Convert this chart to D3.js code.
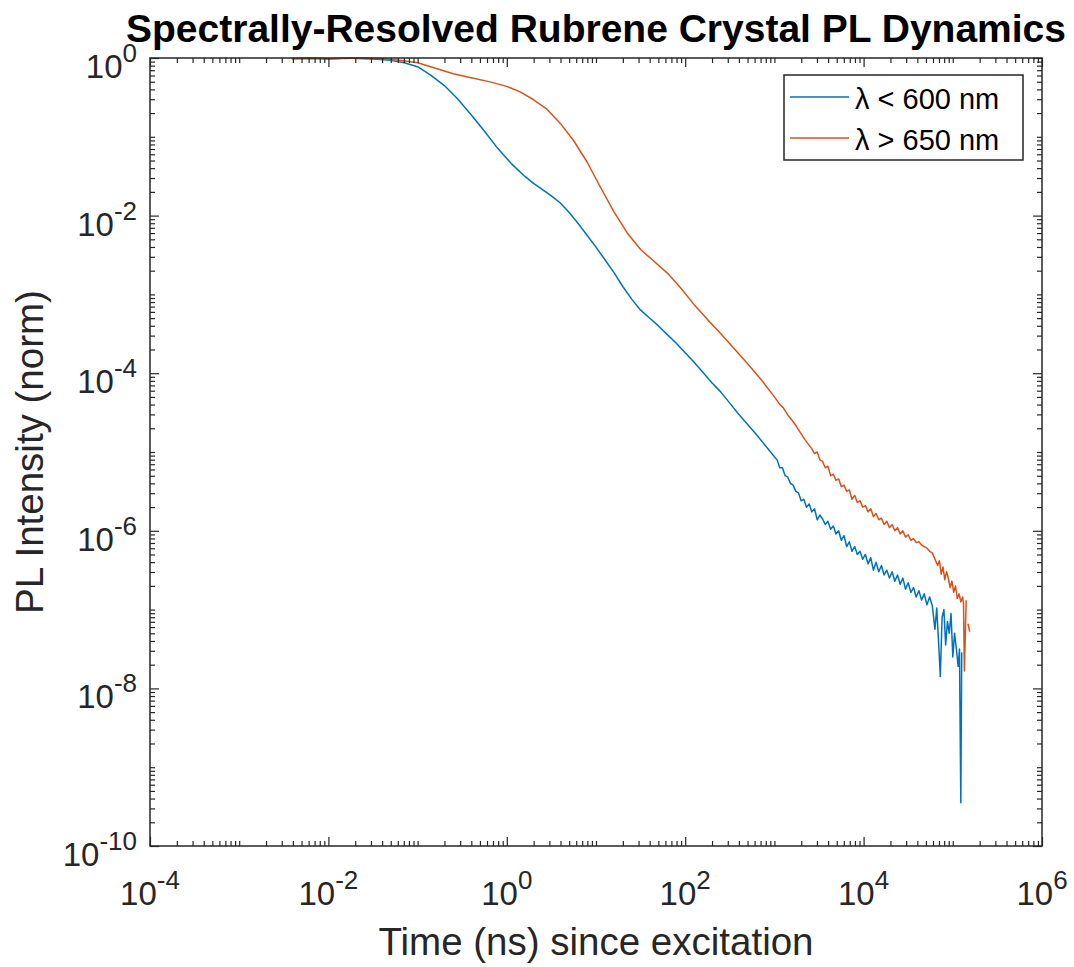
<!DOCTYPE html>
<html>
<head>
<meta charset="utf-8">
<script src="https://cdn.jsdelivr.net/npm/d3@7"></script>
<style>
  body { margin: 0; background: #fff; }
  svg text { font-family: "Liberation Sans", Arial, Helvetica, sans-serif; fill: #262626; }
</style>
</head>
<body>
<svg id="chart" width="1074" height="967"></svg>
<script>
// Series, as [log10(time ns), log10(intensity)]
const blueExp = [
  [-2.41,-0.01],[-2.2,-0.005],[-2.0,-0.012],[-1.8,0],[-1.6,-0.01],[-1.45,-0.015],[-1.3,-0.03],
  [-1.15,-0.06],[-1.0,-0.11],[-0.85,-0.22],[-0.7,-0.35],[-0.55,-0.52],[-0.4,-0.72],[-0.25,-0.93],
  [-0.1,-1.15],[0.05,-1.34],[0.2,-1.5],[0.3,-1.59],[0.4,-1.67],[0.5,-1.75],[0.6,-1.84],[0.7,-1.96],
  [0.8,-2.1],[0.9,-2.25],[1.0,-2.4],[1.1,-2.56],[1.2,-2.72],[1.3,-2.9],[1.4,-3.06],[1.5,-3.2],
  [1.6,-3.3],[1.7,-3.4],[1.8,-3.51],[1.9,-3.62],[2.0,-3.74],[2.1,-3.86],[2.2,-3.99],[2.3,-4.12],
  [2.4,-4.24],[2.5,-4.38],[2.6,-4.52],[2.7,-4.65],[2.8,-4.78],[2.9,-4.92],
  [3.0,-5.06],[3.03,-5.1],[3.06,-5.2],[3.09,-5.2],[3.12,-5.3],[3.15,-5.32],[3.18,-5.4],[3.21,-5.42],
  [3.24,-5.5],[3.27,-5.52],[3.3,-5.62],[3.33,-5.6],[3.36,-5.7],[3.39,-5.66],[3.42,-5.76],[3.45,-5.72],
  [3.48,-5.86],[3.51,-5.8],[3.54,-5.85],[3.57,-5.92],[3.6,-5.88],[3.63,-5.98],[3.66,-5.94],[3.69,-6.04],
  [3.72,-6.0],[3.75,-6.12],[3.78,-6.06],[3.81,-6.2],[3.84,-6.14],[3.87,-6.26],[3.9,-6.2],[3.93,-6.3],
  [3.96,-6.26],[3.99,-6.36],[4.02,-6.3],[4.05,-6.42],[4.08,-6.34],[4.11,-6.5],[4.14,-6.4],[4.17,-6.52],
  [4.2,-6.44],[4.23,-6.56],[4.26,-6.5],[4.29,-6.6],[4.32,-6.52],[4.35,-6.64],[4.38,-6.56],[4.41,-6.68],
  [4.44,-6.6],[4.47,-6.74],[4.5,-6.66],[4.53,-6.78],[4.56,-6.72],[4.59,-6.84],[4.62,-6.76],[4.65,-6.88],
  [4.68,-6.8],[4.71,-6.94],[4.74,-6.84],[4.77,-6.95],[4.8,-7.25],[4.82,-6.98],[4.84,-7.4],[4.86,-7.85],
  [4.88,-7.1],[4.9,-7.0],[4.92,-7.45],[4.94,-7.15],[4.96,-7.3],[4.98,-7.05],[5.0,-7.6],[5.02,-7.3],
  [5.04,-7.5],[5.06,-7.72],[5.075,-7.5],[5.08,-8.2],[5.09,-9.45],[5.1,-7.54]
];
const orangeExp = [
  [-2.41,-0.005],[-2.2,0],[-2.0,-0.01],[-1.8,-0.005],[-1.6,0],[-1.4,-0.01],[-1.2,-0.03],[-1.0,-0.06],
  [-0.8,-0.13],[-0.6,-0.2],[-0.4,-0.25],[-0.2,-0.3],[0.0,-0.36],[0.15,-0.43],[0.3,-0.53],[0.45,-0.65],
  [0.6,-0.83],[0.75,-1.05],[0.9,-1.32],[1.05,-1.64],[1.2,-1.95],[1.35,-2.22],[1.5,-2.43],[1.65,-2.58],
  [1.8,-2.73],[1.95,-2.92],[2.1,-3.13],[2.25,-3.32],[2.4,-3.5],[2.55,-3.69],[2.7,-3.88],[2.85,-4.08],
  [3.0,-4.3],[3.05,-4.38],[3.1,-4.44],[3.15,-4.53],[3.2,-4.6],[3.25,-4.68],[3.3,-4.77],[3.34,-4.84],
  [3.38,-4.9],[3.42,-4.96],[3.45,-5.02],[3.48,-5.0],[3.51,-5.1],[3.54,-5.12],[3.57,-5.2],[3.6,-5.18],
  [3.63,-5.3],[3.66,-5.28],[3.69,-5.36],[3.72,-5.34],[3.75,-5.44],[3.78,-5.42],[3.81,-5.5],[3.84,-5.48],
  [3.87,-5.6],[3.9,-5.55],[3.93,-5.64],[3.96,-5.62],[3.99,-5.7],[4.02,-5.68],[4.05,-5.76],[4.08,-5.72],
  [4.11,-5.82],[4.14,-5.78],[4.17,-5.86],[4.2,-5.84],[4.23,-5.92],[4.26,-5.88],[4.29,-5.96],[4.32,-5.92],
  [4.35,-6.0],[4.38,-5.96],[4.41,-6.04],[4.44,-6.0],[4.47,-6.08],[4.5,-6.05],[4.53,-6.12],[4.56,-6.1],
  [4.59,-6.15],[4.62,-6.14],[4.65,-6.18],[4.68,-6.2],[4.71,-6.22],[4.74,-6.26],[4.77,-6.28],[4.8,-6.36],
  [4.83,-6.44],[4.85,-6.38],[4.87,-6.55],[4.89,-6.46],[4.91,-6.62],[4.93,-6.52],[4.95,-6.6],[4.97,-6.72],
  [4.99,-6.64],[5.01,-6.78],[5.03,-6.7],[5.05,-6.86],[5.07,-6.8],[5.09,-6.9],[5.11,-6.84],[5.12,-6.92],
  [5.13,-7.78],[5.15,-6.88],
  null,
  [5.17,-7.18],[5.19,-7.28]
];

const seriesNames = ['\u03bb < 600 nm', '\u03bb > 650 nm'];
const seriesColors = ['#0072BD', '#D95319'];
const xMajorExp = [-4, -2, 0, 2, 4, 6];
const yMajorExp = [-10, -8, -6, -4, -2, 0];

const titleText = 'Spectrally-Resolved Rubrene Crystal PL Dynamics';
const xLabel = 'Time (ns) since excitation';
const yLabel = 'PL Intensity (norm)';

// Plot box
const plotLeft = 150, plotRight = 1042, plotTop = 58, plotBottom = 846;
const axisColor = '#262626';

const svg = d3.select('#chart');

const x = d3.scaleLog().domain([1e-4, 1e6]).range([plotLeft, plotRight]);
const y = d3.scaleLog().domain([1e-10, 1]).range([plotBottom, plotTop]);

// minor ticks: every 1..9 x 10^k that is not a major tick
function minorTicks(lo, hi, majors) {
  const out = [];
  for (let k = lo; k < hi; k++) {
    for (let m = 1; m <= 9; m++) {
      if (m === 1 && majors.includes(k)) continue;
      out.push(m * Math.pow(10, k));
    }
  }
  return out;
}
const xMinor = minorTicks(-4, 6, xMajorExp);
const yMinor = minorTicks(-10, 0, yMajorExp);
const xMajor = xMajorExp.map(e => Math.pow(10, e));
const yMajor = yMajorExp.map(e => Math.pow(10, e));

// Data lines (clipped to the axes)
svg.append('clipPath').attr('id', 'clip')
  .append('rect')
  .attr('x', plotLeft).attr('y', plotTop - 1)
  .attr('width', plotRight - plotLeft).attr('height', plotBottom - plotTop + 1);

const line = d3.line()
  .defined(d => d !== null)
  .x(d => x(d.t))
  .y(d => y(d.v));

const toPoints = arr => arr.map(p => p === null ? null : { t: Math.pow(10, p[0]), v: Math.pow(10, p[1]) });

[blueExp, orangeExp].forEach((s, i) => {
  svg.append('path')
    .datum(toPoints(s))
    .attr('clip-path', 'url(#clip)')
    .attr('fill', 'none')
    .attr('stroke', seriesColors[i])
    .attr('stroke-width', 1.5)
    .attr('stroke-linejoin', 'round')
    .attr('d', line);
});

// Ticks on all four sides, pointing inward
function drawAxis(axisFn, scale, transform, values, size) {
  const g = svg.append('g')
    .attr('transform', transform)
    .call(axisFn(scale).tickValues(values).tickSize(size).tickFormat(() => ''));
  g.select('.domain').remove();
  g.selectAll('line').attr('stroke', axisColor).attr('stroke-width', 1.2);
  g.selectAll('text').remove();
  return g;
}
drawAxis(d3.axisBottom, x, `translate(0,${plotBottom})`, xMajor, -9);
drawAxis(d3.axisBottom, x, `translate(0,${plotBottom})`, xMinor, -5);
drawAxis(d3.axisTop, x, `translate(0,${plotTop})`, xMajor, -9);
drawAxis(d3.axisTop, x, `translate(0,${plotTop})`, xMinor, -5);
drawAxis(d3.axisLeft, y, `translate(${plotLeft},0)`, yMajor, -9);
drawAxis(d3.axisLeft, y, `translate(${plotLeft},0)`, yMinor, -5);
drawAxis(d3.axisRight, y, `translate(${plotRight},0)`, yMajor, -9);
drawAxis(d3.axisRight, y, `translate(${plotRight},0)`, yMinor, -5);

// Box
svg.append('rect')
  .attr('x', plotLeft).attr('y', plotTop)
  .attr('width', plotRight - plotLeft).attr('height', plotBottom - plotTop)
  .attr('fill', 'none')
  .attr('stroke', axisColor)
  .attr('stroke-width', 1.5);

// Tick labels as 10^n
function powerLabel(sel, e) {
  sel.append('tspan').attr('font-size', 33).text('10');
  sel.append('tspan').attr('font-size', 26).attr('dy', -16).text(e);
}
xMajorExp.forEach(e => {
  svg.append('text')
    .attr('x', x(Math.pow(10, e)))
    .attr('y', 905)
    .attr('text-anchor', 'middle')
    .call(powerLabel, e);
});
yMajorExp.forEach(e => {
  svg.append('text')
    .attr('x', 137)
    .attr('y', y(Math.pow(10, e)) + 20)
    .attr('text-anchor', 'end')
    .call(powerLabel, e);
});

// Title and axis labels
svg.append('text')
  .attr('x', (plotLeft + plotRight) / 2)
  .attr('y', 42)
  .attr('text-anchor', 'middle')
  .attr('font-size', 39)
  .attr('font-weight', 'bold')
  .style('fill', '#000')
  .text(titleText);

svg.append('text')
  .attr('x', (plotLeft + plotRight) / 2)
  .attr('y', 955)
  .attr('text-anchor', 'middle')
  .attr('font-size', 38.5)
  .text(xLabel);

svg.append('text')
  .attr('transform', `translate(43,${(plotTop + plotBottom) / 2}) rotate(-90)`)
  .attr('text-anchor', 'middle')
  .attr('font-size', 38.5)
  .text(yLabel);

// Legend
const legend = svg.append('g');
legend.append('rect')
  .attr('x', 784).attr('y', 75)
  .attr('width', 239).attr('height', 85)
  .attr('fill', '#fff')
  .attr('stroke', axisColor)
  .attr('stroke-width', 1.5);
seriesNames.forEach((name, i) => {
  const ly = 97 + i * 41;
  legend.append('line')
    .attr('x1', 790).attr('x2', 849)
    .attr('y1', ly).attr('y2', ly)
    .attr('stroke', seriesColors[i])
    .attr('stroke-width', 1.5);
  legend.append('text')
    .attr('x', 855)
    .attr('y', ly + 12)
    .attr('font-size', 29)
    .style('fill', '#000')
    .text(name);
});
</script>
</body>
</html>
